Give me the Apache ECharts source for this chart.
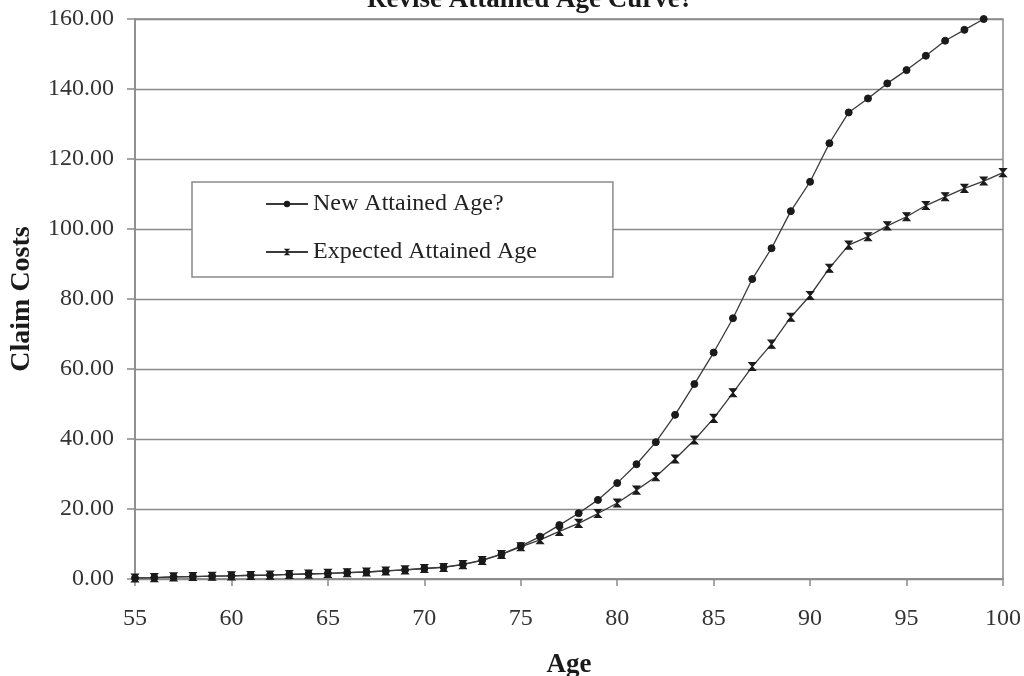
<!DOCTYPE html>
<html>
<head>
<meta charset="utf-8">
<script src="https://cdn.jsdelivr.net/npm/echarts@6/dist/echarts.min.js"></script>
<style>
html,body{margin:0;padding:0;background:#fff;}
#chart{width:1024px;height:676px;}
</style>
</head>
<body>
<div id="chart"></div>
<script>
const titleText = 'Revise Attained Age Curve?';
const ages = [55,56,57,58,59,60,61,62,63,64,65,66,67,68,69,70,71,72,73,74,75,76,77,78,79,80,81,82,83,84,85,86,87,88,89,90,91,92,93,94,95,96,97,98,99,100];
const newAttainedAge = [0.3,0.4,0.6,0.7,0.8,0.9,1.1,1.1,1.3,1.5,1.6,1.8,2.0,2.3,2.6,3.0,3.4,4.2,5.4,7.1,9.4,12.1,15.4,18.8,22.6,27.4,32.8,39.1,46.9,55.7,64.7,74.5,85.7,94.5,105.1,113.5,124.5,133.3,137.3,141.6,145.4,149.5,153.8,156.9,160.0,163.0];
const expectedAttainedAge = [0.3,0.4,0.6,0.7,0.8,0.9,1.0,1.1,1.3,1.4,1.6,1.8,2.0,2.3,2.6,3.0,3.3,4.1,5.3,7.0,9.2,11.2,13.6,15.9,18.7,21.7,25.4,29.2,34.3,39.7,45.9,53.2,60.7,67.1,74.8,81.0,88.8,95.4,97.8,100.9,103.5,106.7,109.2,111.6,113.7,116.1];
const seriesNames = ['New Attained Age?', 'Expected Attained Age'];
const xTicks = {min: 55, max: 100, interval: 5};
const yTicks = {min: 0, max: 160, interval: 20};

const FONT = '"Liberation Serif", "Times New Roman", serif';
const chart = echarts.init(document.getElementById('chart'), null, {renderer: 'canvas'});

const toPairs = (vals) => ages.map((a, i) => [a, vals[i]]);

chart.setOption({
  animation: false,
  backgroundColor: '#ffffff',
  textStyle: {fontFamily: FONT, color: '#222'},
  title: {
    text: titleText,
    left: 362,
    top: -18,
    textStyle: {fontFamily: FONT, fontSize: 27, fontWeight: 'bold', color: '#1a1a1a'}
  },
  grid: {
    left: 135, right: 21, top: 19, bottom: 97,
    containLabel: false,
    outerBoundsMode: 'none',
    show: true, borderColor: '#8a8a8a', borderWidth: 1.5, backgroundColor: 'transparent'
  },
  legend: {
    orient: 'vertical',
    left: 192, top: 182,
    padding: [10, 76, 13, 73],
    itemGap: 24,
    itemWidth: 42, itemHeight: 8,
    borderColor: '#8a8a8a', borderWidth: 1.5,
    backgroundColor: '#fff',
    textStyle: {fontFamily: FONT, fontSize: 24, color: '#222'},
    data: seriesNames
  },
  xAxis: {
    type: 'value',
    min: xTicks.min, max: xTicks.max, interval: xTicks.interval,
    name: 'Age', nameLocation: 'middle', nameGap: 73,
    nameTextStyle: {fontFamily: FONT, fontSize: 27, fontWeight: 'bold', color: '#1a1a1a'},
    axisLine: {show: true, lineStyle: {color: '#8a8a8a', width: 1.5}},
    axisTick: {show: true, inside: false, length: 7, lineStyle: {color: '#8a8a8a', width: 1.5}},
    axisLabel: {fontFamily: FONT, fontSize: 24, color: '#333', margin: 28},
    splitLine: {show: false}
  },
  yAxis: {
    type: 'value',
    min: yTicks.min, max: yTicks.max, interval: yTicks.interval,
    name: 'Claim Costs', nameLocation: 'middle', nameGap: 99,
    nameTextStyle: {fontFamily: FONT, fontSize: 28, fontWeight: 'bold', color: '#1a1a1a'},
    axisLine: {show: true, lineStyle: {color: '#8a8a8a', width: 1.5}},
    axisTick: {show: true, inside: false, length: 8, lineStyle: {color: '#8a8a8a', width: 1.5}},
    axisLabel: {fontFamily: FONT, fontSize: 24, color: '#333', margin: 21, formatter: v => v.toFixed(2)},
    splitLine: {show: true, lineStyle: {color: '#8a8a8a', width: 1.3}}
  },
  series: [
    {
      name: seriesNames[0],
      type: 'line',
      data: toPairs(newAttainedAge),
      symbol: 'circle', symbolSize: 7,
      showAllSymbol: true,
      clip: true,
      lineStyle: {color: '#3a3a3a', width: 1.3},
      itemStyle: {color: '#1a1a1a', borderColor: '#1a1a1a'}
    },
    {
      name: seriesNames[1],
      type: 'line',
      data: toPairs(expectedAttainedAge),
      symbol: 'path://M0,0L10,0L5,5L10,10L0,10L5,5Z', symbolSize: [7, 8],
      showAllSymbol: true,
      clip: true,
      lineStyle: {color: '#3a3a3a', width: 1.3},
      itemStyle: {color: '#1a1a1a', borderColor: '#1a1a1a'}
    }
  ]
});
</script>
</body>
</html>
